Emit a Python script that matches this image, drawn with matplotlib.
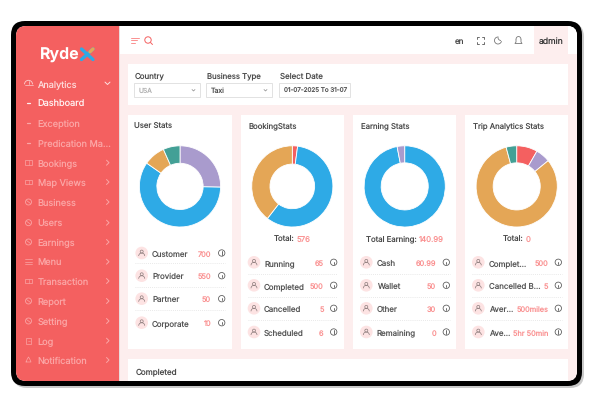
import matplotlib
matplotlib.use("Agg")
import matplotlib.pyplot as plt
from matplotlib.patches import FancyBboxPatch, Rectangle, Circle, Arc

plt.rcParams['font.family'] = ['Inter', 'DejaVu Sans']
# small text jumps between sizes with hinting on
plt.rcParams['text.hinting'] = 'no_hinting'
plt.rcParams['text.hinting_factor'] = 1

W, H = 594, 410

# sidebar
menu_labels = ["Analytics", "Dashboard", "Exception", "Predication Ma...", "Bookings", "Map Views",
               "Business", "Users", "Earnings", "Menu", "Transaction", "Report", "Setting", "Log",
               "Notification"]

# filters
filter_labels = ["Country", "Business Type", "Select Date"]
filter_values = ["USA", "Taxi", "01-07-2025 To 31-07"]

# cards
card_titles = ["User Stats", "BookingStats", "Earning Stats", "Trip Analytics Stats"]
user_shares = [25.3, 59.4, 8.6, 6.7]
booking_shares = [2.1, 58.4, 39.5]
earning_shares = [97.0, 3.0]
trip_shares = [8.3, 5.8, 81.7, 4.2]

user_names = ["Customer", "Provider", "Partner", "Corporate"]
user_values = ["700", "550", "50", "10"]
booking_names = ["Running", "Completed", "Cancelled", "Scheduled"]
booking_values = ["65", "500", "5", "6"]
earning_names = ["Cash", "Wallet", "Other", "Remaining"]
earning_values = ["60.99", "50", "30", "0"]
trip_names = ["Complet...", "Cancelled B...", "Aver...", "Ave..."]
trip_values = ["500", "5", "500miles", "5hr 50min"]

total_labels = [None, "Total: ", "Total Earning: ", "Total: "]
total_values = [None, "576", "140.99", "0"]

RED = "#f46060"
BLUE = "#2eaae6"
ORANGE = "#e4a656"
PURPLE = "#a99bcd"
TEAL = "#43a096"
PINK = "#fdeeee"
DARK = "#4a4a4a"
SALMON = "#fa9090"

fig = plt.figure(figsize=(W / 100, H / 100), dpi=100, facecolor="white")
ax = fig.add_axes([0, 0, 1, 1])
ax.set_xlim(0, W)
ax.set_ylim(H, 0)
ax.axis("off")


def rect(x0, y0, x1, y1, color, clip=None, z=1):
    r = Rectangle((x0, y0), x1 - x0, y1 - y0, facecolor=color, edgecolor="none", zorder=z)
    ax.add_patch(r)
    if clip is not None:
        r.set_clip_path(clip)
    return r


def rounded(x0, y0, x1, y1, rad, color, z=1):
    p = FancyBboxPatch((x0, y0), x1 - x0, y1 - y0, boxstyle=f"round,pad=0,rounding_size={rad}",
                       facecolor=color, edgecolor="none", zorder=z)
    ax.add_patch(p)
    return p


def line(xs, ys, color, lw=0.7, z=4, **kw):
    ax.plot(xs, ys, color=color, lw=lw, zorder=z, solid_capstyle="round", **kw)


def ring(x, y, r, color, lw=0.6, z=4):
    ax.add_patch(Circle((x, y), r, facecolor="none", edgecolor=color, lw=lw, zorder=z))


def label(x, y, s, size=5.8, color=DARK, ha="left", weight="normal"):
    # va center sits a little high here, nudge it down
    return ax.text(x, y + 0.8, s, fontsize=size, color=color, ha=ha, va="center", weight=weight, zorder=5)


# device frame
rounded(13, 24, 584, 389, 14, "#c9c9c9", z=0)
rounded(11, 22, 582, 387, 14, "black", z=1)
screen = rounded(16, 27, 577, 382, 10, "white", z=2)

rect(119, 27, 577, 382, PINK, clip=screen, z=2)
rect(119, 27, 577, 55, "white", clip=screen, z=3)
rect(534, 27, 568, 55, PINK, z=3)
rect(16, 27, 119, 382, RED, clip=screen, z=3)
rect(119, 27, 120, 382, "#e9dcdc", z=3)

# logo
logo = label(40, 55, "Ryde", size=11.5, color="white", weight="bold")
line([81.5, 93], [50, 60.5], BLUE, lw=2.4)
line([81.5, 93], [60.5, 50], BLUE, lw=2.4)
line([90, 93], [52.8, 50], ORANGE, lw=2.4)

# sidebar items
menu_y = [84.3, 104, 124, 143.7, 163.7, 183, 203, 223.7, 243, 262.7, 282, 302, 322, 341.7, 361]
PALE = "#fba5a5"


def menu_icon(kind, y, c):
    x = 28.5
    if kind == "dash":
        line([x - 1.5, x + 1.5], [y, y], c, lw=0.9)
    elif kind == "round":
        ring(x, y, 3, c)
        line([x - 2, x + 2], [y - 1.5, y + 1.5], c, lw=0.5)
    elif kind == "menu":
        for d in (-2.3, 0, 2.3):
            line([x - 3.3, x + 3.3], [y + d, y + d], c, lw=0.5)
    elif kind == "box":
        ax.add_patch(Rectangle((x - 3.2, y - 2.4), 6.4, 4.8, fill=False, edgecolor=c, lw=0.5, zorder=4))
        line([x, x], [y - 2.4, y + 2.4], c, lw=0.4)
    elif kind == "doc":
        ax.add_patch(Rectangle((x - 2.2, y - 3), 4.4, 6, fill=False, edgecolor=c, lw=0.5, zorder=4))
        line([x - 1, x + 1], [y, y], c, lw=0.4)
    elif kind == "bell":
        line([x - 2.5, x - 1.2, x, x + 1.2, x + 2.5, x - 2.5], [y + 2, y - 1, y - 3, y - 1, y + 2, y + 2], c, lw=0.5)
    elif kind == "gauge":
        ax.add_patch(Arc((x, y + 1), 8, 8, theta1=180, theta2=360, edgecolor=c, lw=0.6, zorder=4))
        line([x - 4, x + 4], [y + 2, y + 2], c, lw=0.5)
        line([x, x], [y + 1, y - 2], c, lw=0.5)


menu_kinds = ["gauge", "dash", "dash", "dash", "box", "box", "round", "round", "round", "menu", "box",
              "round", "round", "doc", "bell"]
for i, (name, y, kind) in enumerate(zip(menu_labels, menu_y, menu_kinds)):
    if i == 1:
        c = "#fff0f0"
    elif i == 0:
        c = "#fdd8d8"
    else:
        c = PALE
    label(37.5, y, name, size=6.6, color=c)
    menu_icon(kind, y, "#fdd0d0" if i == 0 else c)
    if i == 0:
        line([105, 107.5, 110], [y - 1.2, y + 1.2, y - 1.2], "#fde0e0", lw=0.7)
    elif i >= 4:
        line([106.5, 109, 106.5], [y - 2.5, y, y + 2.5], PALE, lw=0.7)

# header
for y0, x1 in [(38.5, 139), (41, 137), (43.5, 135)]:
    line([131, x1], [y0, y0], SALMON, lw=0.7)
ring(148, 41, 3.2, "#f46060", lw=0.7)
line([150.5, 152.5], [43.5, 45.5], "#f46060", lw=0.7)
label(459.5, 41, "en", size=5.8, ha="center")
for sx, sy in [(-1, -1), (1, -1), (-1, 1), (1, 1)]:
    line([480.5 + sx * 3.5, 480.5 + sx * 3.5, 480.5 + sx * 1.5], [41 + sy * 1.5, 41 + sy * 3.5, 41 + sy * 3.5],
         "#555555", lw=0.6)
# moon
ax.add_patch(Arc((498, 41.5), 7, 7, theta1=10, theta2=280, edgecolor="#777777", lw=0.6, zorder=4))
ax.add_patch(Arc((501, 38.5), 6, 6, theta1=90, theta2=180, edgecolor="#777777", lw=0.6, zorder=4))
# bell
ax.add_patch(Arc((518.5, 40.5), 5, 6, theta1=180, theta2=360, edgecolor="#777777", lw=0.6, zorder=4))
line([516, 516, 515, 522, 521, 521], [40.5, 43, 44.5, 44.5, 43, 40.5], "#777777", lw=0.6)
label(551, 41, "admin", size=6.2, color="#333333", ha="center")

# filter card
rect(128, 65, 568, 106, "white", z=3)
filter_x = [(134, 200), (206, 272), (279, 350)]
filter_sizes = [5.7, 5.6, 5.7]
value_sizes = [4.8, 5, 4.5]
for i, ((x0, x1), name, val) in enumerate(zip(filter_x, filter_labels, filter_values)):
    label(x0 + 0.6, 75.5, name, size=filter_sizes[i], color=DARK)
    ax.add_patch(Rectangle((x0, 84), x1 - x0, 14, facecolor="white", edgecolor="#dddddd", lw=0.6, zorder=4))
    label(x0 + 5, 90.5, val, size=value_sizes[i], color="#b0b0b0" if i == 0 else "#555555")
    if i < 2:
        line([x1 - 8, x1 - 6.5, x1 - 5], [90.5, 92, 90.5], "#888888", lw=0.5)

# stat cards
cards = [(128, 232), (241, 344), (353, 456), (465, 568)]
for (x0, x1) in cards:
    rect(x0, 116, x1, 350, "white", z=3)
rect(128, 360, 568, 382, "white", z=3)
label(135.5, 371, "Completed", size=5.8, color=DARK)

title_x = [134, 248, 361, 473]
for x, t in zip(title_x, card_titles):
    label(x, 125.3, t, size=5.6, color=DARK)

# donuts
centres = [180, 292.3, 404.7, 516.7]
donuts = [(user_shares, [PURPLE, BLUE, ORANGE, TEAL], 0.57),
          (booking_shares, [RED, BLUE, ORANGE], 0.55),
          (earning_shares, [BLUE, PURPLE], 0.58),
          (trip_shares, [RED, PURPLE, ORANGE, TEAL], 0.58)]
R = 41
for cx, (shares, colors, inner) in zip(centres, donuts):
    pie_ax = fig.add_axes([(cx - R) / W, 1 - (187.4 + R) / H, 2 * R / W, 2 * R / H])
    pie_ax.pie(shares, colors=colors, startangle=90, counterclock=False, radius=1,
               wedgeprops={"width": 1 - inner, "edgecolor": "white", "linewidth": 0.6})
    pie_ax.set_xlim(-1.01, 1.01)
    pie_ax.set_ylim(-1.01, 1.01)
    pie_ax.patch.set_alpha(0)

# totals
renderer = fig.canvas.get_renderer()
for cx, a, b in zip(centres, total_labels, total_values):
    if a is None:
        continue
    t1 = label(0, 238.5, a.rstrip(), size=5.6, color=DARK)
    t2 = label(0, 238.5, b, size=5.6, color=SALMON)
    w1 = t1.get_window_extent(renderer).width
    w2 = t2.get_window_extent(renderer).width
    gap = 2.5
    start = cx - (w1 + w2 + gap) / 2
    t1.set_x(start)
    t2.set_x(start + w1 + gap)


# rows
def person(x, y):
    ax.add_patch(Circle((x, y), 6.3, facecolor="#fde3e3", edgecolor="none", zorder=4))
    ring(x, y - 1.4, 1.5, "#8a7a7a", lw=0.5, z=5)
    ax.add_patch(Arc((x, y + 3), 6, 6, theta1=180, theta2=360, edgecolor="#8a7a7a", lw=0.5, zorder=5))


def info(x, y):
    ring(x, y, 3.2, "#555555", lw=0.55)
    line([x, x], [y - 0.6, y + 1.6], "#555555", lw=0.6)
    line([x, x], [y - 1.7, y - 1.5], "#555555", lw=0.6)


user_rows = [254, 276.7, 299.7, 323.7]
other_rows = [263.3, 286.3, 309.3, 333]
user_seps = [264.3, 287.7, 310.7]
other_seps = [275.3, 298.3, 321.3]

row_x = [(141.7, 152, 211, 221.7), (254, 264, 323.7, 333.7), (366.3, 376.7, 436, 446.3), (478.3, 489, 548.3, 558.3)]
names = [user_names, booking_names, earning_names, trip_names]
values = [user_values, booking_values, earning_values, trip_values]
for k in range(4):
    ic, tx, vx, ix = row_x[k]
    rows = user_rows if k == 0 else other_rows
    seps = user_seps if k == 0 else other_seps
    for y, n, v in zip(rows, names[k], values[k]):
        person(ic, y)
        label(tx, y - 0.4, n, size=5.7, color="#555555")
        label(vx, y - 0.4, v, size=5.3, color=SALMON, ha="right")
        info(ix, y)
    for y in seps:
        ax.plot([ic - 6.5, ix + 3.5], [y, y], color="#e2e2e2", lw=0.6, ls=(0, (1, 1.5)), zorder=4)

fig.savefig("out.png", dpi=100)
